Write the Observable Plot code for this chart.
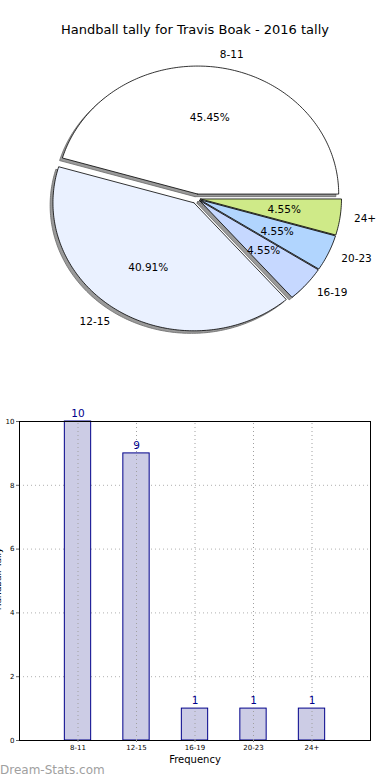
<!DOCTYPE html>
<html>
<head>
<meta charset="utf-8">
<script src="https://cdn.jsdelivr.net/npm/d3@7"></script>
<script src="https://cdn.jsdelivr.net/npm/@observablehq/plot@0.6"></script>
<style>
  html, body { margin: 0; padding: 0; background: #fff; }
  #wrap { position: relative; width: 390px; height: 780px; overflow: hidden; font-family: "DejaVu Sans", sans-serif; }
  #wrap svg { position: absolute; left: 0; font-family: "DejaVu Sans", sans-serif; }
  .abs { position: absolute; white-space: nowrap; }
</style>
</head>
<body>
<div id="wrap">
  <div class="abs" id="title" style="left:0;width:390px;top:22px;text-align:center;font-size:13px;color:#000;"></div>
  <div class="abs" id="xlabel" style="left:0;width:390px;top:754px;text-align:center;font-size:10px;color:#000;"></div>
  <div class="abs" id="ylabel" style="left:-42px;top:574px;width:80px;text-align:center;font-size:9px;color:#000;transform:rotate(-90deg);"></div>
  <div class="abs" id="wm" style="left:0;top:763px;font-size:12px;color:#a0a0a0;"></div>
</div>
<script>
const titleText = "Handball tally for Travis Boak - 2016 tally";
const categories = ["8-11", "12-15", "16-19", "20-23", "24+"];
const counts = [10, 9, 1, 1, 1];
const pieColors = ["#ffffff", "#eaf1ff", "#c6d8ff", "#b1d5fe", "#cfea88"];
const explode = [0.035, 0.04, 0.025, 0.025, 0.025];
const yTicks = [0, 2, 4, 6, 8, 10];
const xLabelText = "Frequency";
const yLabelText = "Handball Tally";
const watermark = "Dream-Stats.com";

document.getElementById("title").textContent = titleText;
document.getElementById("xlabel").textContent = xLabelText;
document.getElementById("ylabel").textContent = yLabelText;
document.getElementById("wm").textContent = watermark;

const wrap = document.getElementById("wrap");

// ---------- PIE ----------
const total = d3.sum(counts);
const arcs = d3.pie().sort(null).value(d => d)(counts);
const wedgePts = [];
const shadowPts = [];
const labels = [];
const pcts = [];
arcs.forEach((a, i) => {
  const a0 = a.startAngle, a1 = a.endAngle, mid = (a0 + a1) / 2;
  const ox = explode[i] * Math.cos(mid), oy = explode[i] * Math.sin(mid);
  const n = Math.max(4, Math.ceil((a1 - a0) * 180 / Math.PI));
  const pts = [[ox, oy]];
  for (let k = 0; k <= n; k++) {
    const t = a0 + (a1 - a0) * k / n;
    pts.push([ox + Math.cos(t), oy + Math.sin(t)]);
  }
  pts.push([ox, oy]);
  pts.forEach(([x, y]) => {
    wedgePts.push({i, x, y});
    shadowPts.push({i, x: x - 0.02, y: y - 0.02});
  });
  labels.push({i, x: ox + 1.1 * Math.cos(mid), y: oy + 1.1 * Math.sin(mid), text: categories[i], right: Math.cos(mid) >= 0});
  pcts.push({i, x: ox + 0.6 * Math.cos(mid), y: oy + 0.6 * Math.sin(mid), text: (counts[i] / total * 100).toFixed(2) + "%"});
});

const cx = 196.5, cy = 198, rx = 141, ry = 128, pieW = 390, pieH = 380;
const pieMarks = [];
categories.forEach((c, i) => {
  pieMarks.push(Plot.line(shadowPts.filter(d => d.i === i), {x: "x", y: "y", fill: "#9a9a9a", stroke: "#6a6a6a", strokeWidth: 0.8, curve: "linear"}));
});
categories.forEach((c, i) => {
  pieMarks.push(Plot.line(wedgePts.filter(d => d.i === i), {x: "x", y: "y", fill: pieColors[i], stroke: "#000", strokeWidth: 0.8, curve: "linear"}));
});
pieMarks.push(Plot.text(labels.filter(d => d.right), {x: "x", y: "y", text: "text", textAnchor: "start", fontSize: 10.5, fill: "#000"}));
pieMarks.push(Plot.text(labels.filter(d => !d.right), {x: "x", y: "y", text: "text", textAnchor: "end", fontSize: 10.5, fill: "#000"}));
pieMarks.push(Plot.text(pcts, {x: "x", y: "y", text: "text", fontSize: 10.5, fill: "#000"}));

const pie = Plot.plot({
  width: pieW, height: pieH,
  margin: 0,
  x: {domain: [(0 - cx) / rx, (pieW - cx) / rx], range: [0, pieW], axis: null},
  y: {domain: [(cy - pieH) / ry, cy / ry], range: [pieH, 0], axis: null},
  marks: pieMarks
});
pie.style.top = "0px";
wrap.appendChild(pie);

// ---------- BAR ----------
const barTop = 400;
const bars = counts.map((v, i) => ({i, v, cat: categories[i]}));
const barW = 0.45;
const bar = Plot.plot({
  width: 390, height: 380,
  marginLeft: 19, marginRight: 20, marginTop: 21, marginBottom: 40,
  x: {domain: [-1, 5]},
  y: {domain: [0, 10]},
  marks: [
    Plot.ruleY(yTicks, {y: d => d, stroke: "#b0b0b0", strokeDasharray: "1,3", strokeWidth: 1}),
    Plot.rect(bars, {x1: d => d.i - barW / 2, x2: d => d.i + barW / 2, y1: 0, y2: "v", fill: "#cccce5", stroke: "#00008b", strokeWidth: 1}),
    Plot.ruleX(bars, {x: "i", y1: 0, y2: 10, stroke: "#a0a0a0", strokeDasharray: "1,3", strokeWidth: 1}),
    Plot.frame({stroke: "#000", strokeWidth: 1}),
    Plot.axisY(yTicks, {tickSize: 3, tickPadding: 2, fontSize: 7, stroke: "#666", fill: "#000", tickFormat: d => String(d), label: null}),
    Plot.axisX(bars.map(d => d.i), {tickSize: 2, tickPadding: 3, fontSize: 7, stroke: "#888", fill: "#000", tickFormat: i => categories[i], label: null}),
    Plot.text(bars, {x: "i", y: "v", text: d => String(d.v), dy: -8, fill: "#00008b", fontSize: 10.5})
  ]
});
bar.style.top = barTop + "px";
wrap.appendChild(bar);
</script>
</body>
</html>
